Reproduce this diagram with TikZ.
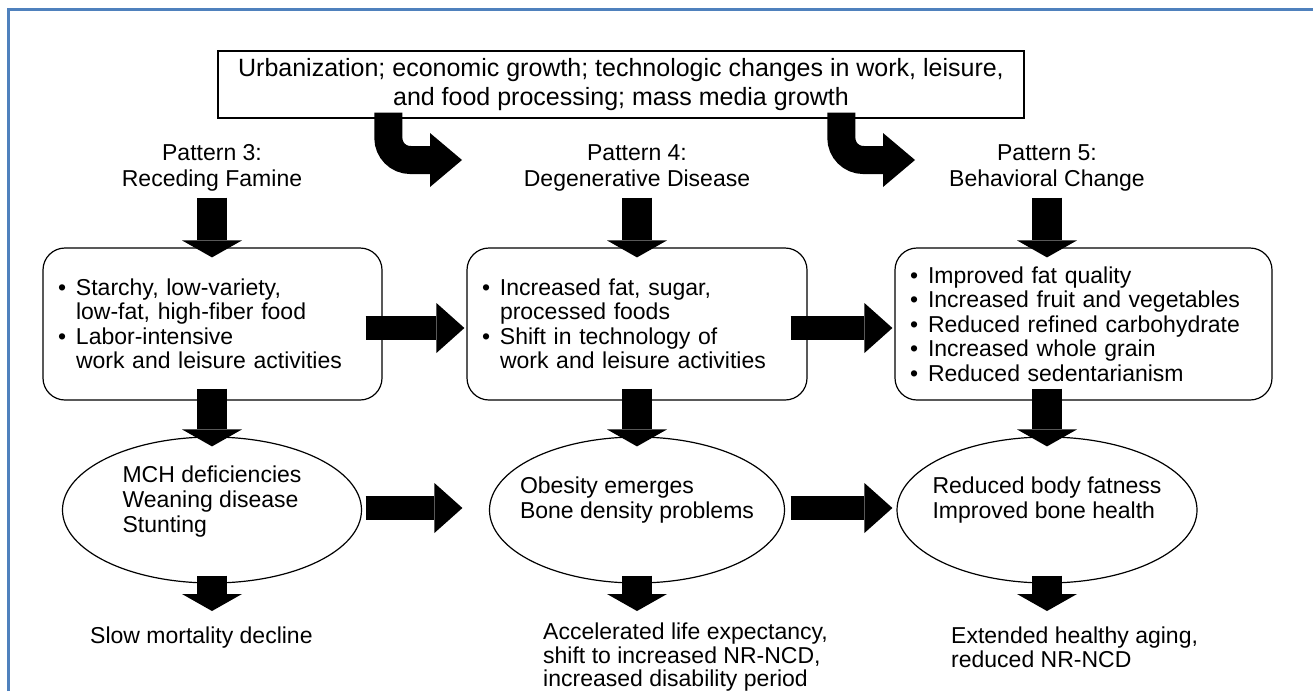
\documentclass[tikz,border=0pt]{standalone}
\usepackage{fontspec}
\setmainfont{Liberation Sans}
\usepackage{tikz}
\usetikzlibrary{shapes.geometric,arrows.meta,calc}
\definecolor{frameblue}{HTML}{4F81BD}
\newcommand{\itm}{\makebox[18pt][l]{\textbullet}}
\newcommand{\ind}{\hspace*{18pt}}

\begin{document}
\begin{tikzpicture}[x=1pt,y=-1pt,inner sep=0pt,
  font=\fontsize{23pt}{25pt}\selectfont,
  topbox/.style={draw,line width=1.3pt,align=center,minimum width=806pt,minimum height=67pt,font=\fontsize{25pt}{29pt}\selectfont},
  heading/.style={align=center,font=\fontsize{23pt}{26pt}\selectfont},
  pbox/.style={draw,line width=1.2pt,rounded corners=22pt,align=left,inner xsep=15pt,minimum height=152pt,font=\fontsize{23pt}{24.5pt}\selectfont},
  oval/.style={draw,ellipse,line width=1.2pt,minimum height=146pt},
  outcome/.style={align=left,anchor=north west,font=\fontsize{23pt}{23.5pt}\selectfont},
  fat/.style={line width=30pt,-{Triangle[width=60pt,length=17pt,line width=0pt]}},
  wide/.style={line width=24pt,-{Triangle[width=50pt,length=28pt,line width=0pt]}},
  bent/.style={line width=28pt,rounded corners=22pt,-{Triangle[width=54pt,length=32pt,line width=0pt]}}]

\useasboundingbox (0,0) rectangle (1313,691);
\draw[frameblue,line width=3pt] (8,691) -- (8,9) -- (1313,9);

\node[topbox] (top) at (621,84.5) {Urbanization; economic growth; technologic changes in work, leisure,\\ and food processing; mass media growth};

\node[heading] (h3) at (212,168) {Pattern 3:\\ Receding Famine};
\node[heading] (h4) at (637,168) {Pattern 4:\\ Degenerative Disease};
\node[heading] (h5) at (1047,168) {Pattern 5:\\ Behavioral Change};

\node[pbox,text width=309pt] (b3) at (212.5,324) {\itm Starchy, low-variety,\\ \ind low-fat, high-fiber food\\ \itm Labor-intensive\\ \ind work and leisure activities};
\node[pbox,text width=310pt] (b4) at (637,324) {\itm Increased fat, sugar,\\ \ind processed foods\\ \itm Shift in technology of\\ \ind work and leisure activities};
\node[pbox,text width=347pt] (b5) at (1083.5,324) {\itm Improved fat quality\\ \itm Increased fruit and vegetables\\ \itm Reduced refined carbohydrate\\ \itm Increased whole grain\\ \itm Reduced sedentarianism};

\node[oval,minimum width=299pt,label={[align=left,yshift=8pt]center:{MCH deficiencies\\ Weaning disease\\ Stunting}}] (e3) at (212,510) {};
\node[oval,minimum width=295pt,label={[align=left,yshift=10pt]center:{Obesity emerges\\ Bone density problems}}] (e4) at (637,510) {};
\node[oval,minimum width=300pt,label={[align=left,yshift=10pt]center:{Reduced body fatness\\ Improved bone health}}] (e5) at (1047,510) {};

\node[outcome] (o3) at (90,627) {Slow mortality decline};
\node[outcome] (o4) at (543,623) {Accelerated life expectancy,\\ shift to increased NR-NCD,\\ increased disability period};
\node[outcome] (o5) at (951,627) {Extended healthy aging,\\ reduced NR-NCD};

\coordinate (t4) at (462,160);
\coordinate (t5) at (915,160);
\draw[bent] ($(top.south west)+(171,-6)$) |- (t4);
\draw[bent] ($(top.south west)+(624,-6)$) |- (t5);

\draw[fat,shorten <=6pt,shorten >=-10pt] (h3.south) -- (h3.south |- b3.north);
\draw[fat,shorten <=6pt,shorten >=-10pt] (h4.south) -- (h4.south |- b4.north);
\draw[fat,shorten <=6pt,shorten >=-10pt] (h5.south) -- (h5.south |- b5.north);

\draw[wide,shorten <=-17pt,shorten >=2pt] ([yshift=-4pt]b3.east) -- ([yshift=-4pt]b4.west);
\draw[wide,shorten <=-17pt,shorten >=2pt] ([yshift=-4pt]b4.east) -- ([yshift=-4pt]b5.west);

\draw[fat,shorten <=-12pt,shorten >=-10pt] (e3 |- b3.south) -- (e3.north);
\draw[fat,shorten <=-12pt,shorten >=-10pt] (e4 |- b4.south) -- (e4.north);
\draw[fat,shorten <=-12pt,shorten >=-10pt] (e5 |- b5.south) -- (e5.north);

\draw[wide,shorten <=3.5pt,shorten >=26.5pt] ([yshift=2pt]e3.east) -- ([yshift=2pt]e4.west);
\draw[wide,shorten <=5.5pt,shorten >=4pt] ([yshift=2pt]e4.east) -- ([yshift=2pt]e5.west);

\draw[fat,shorten <=-8pt,shorten >=16pt] (e3.south) -- (e3 |- o3.north);
\draw[fat,shorten <=-8pt,shorten >=12pt] (e4.south) -- (e4 |- o4.north);
\draw[fat,shorten <=-8pt,shorten >=16pt] (e5.south) -- (e5 |- o5.north);
\end{tikzpicture}
\end{document}
